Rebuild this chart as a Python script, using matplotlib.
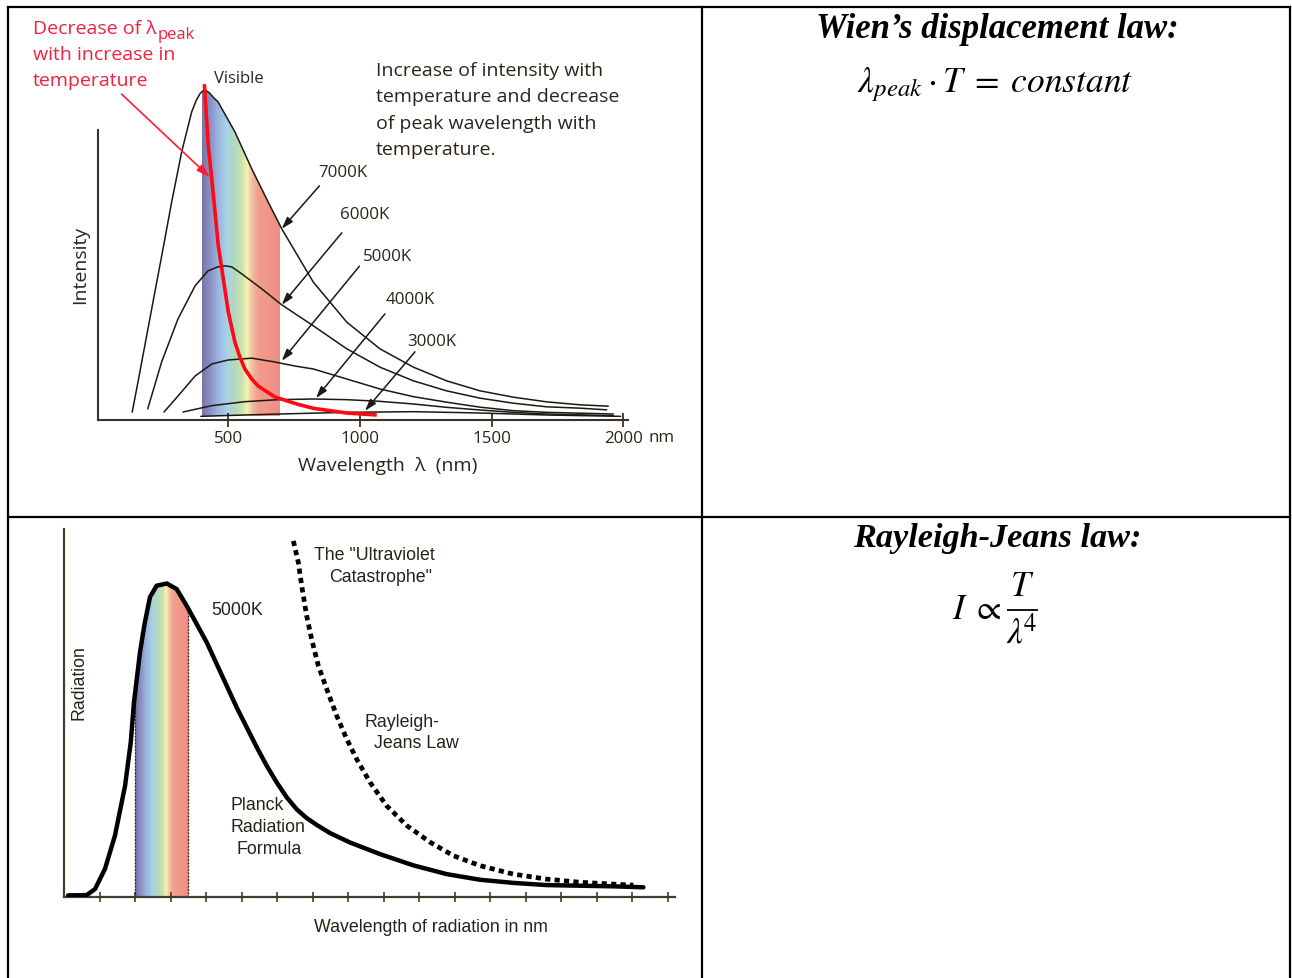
import numpy as np
import matplotlib
matplotlib.use('Agg')
import matplotlib.pyplot as plt
from matplotlib.colors import LinearSegmentedColormap

# ---------------- data: top-left panel (Wien) ----------------
wl_7000 = [135, 157, 209, 247, 285, 323, 361, 378, 393, 404, 415, 428, 446, 461, 525, 589, 651, 703, 823, 950, 1076, 1203, 1329, 1456, 1582, 1709, 1836, 1943]
I_7000 = [2.2, 11.25, 33.15, 49.05, 65.25, 80.3, 92.3, 95.7, 97.8, 98.6, 98.7, 98.0, 96.4, 95.3, 86.3, 75.2, 65.3, 57.2, 41.2, 29.2, 21.2, 15.7, 11.6, 8.6, 6.7, 5.3, 4.4, 4.0]
wl_6000 = [194, 247, 309, 374, 423, 461, 487, 513, 551, 627, 703, 823, 950, 1076, 1203, 1329, 1456, 1582, 1709, 1836, 1937]
I_6000 = [3.2, 17.3, 30.2, 40.1, 44.6, 45.8, 46.1, 45.8, 43.7, 39.2, 34.4, 28.1, 21.2, 15.7, 11.6, 8.6, 6.4, 4.9, 3.8, 3.4, 2.9]
wl_5000 = [256, 309, 374, 437, 499, 589, 677, 753, 823, 950, 1076, 1203, 1329, 1456, 1582, 1709, 1962]
I_5000 = [2.25, 7.05, 13.05, 16.65, 17.85, 18.4, 17.25, 16.05, 15.15, 12.15, 9.15, 6.85, 5.2, 3.7, 2.65, 2.15, 1.65]
wl_4000 = [328, 437, 563, 689, 823, 950, 1076, 1203, 1329, 1456, 1582, 1709, 1962]
I_4000 = [2.25, 4.15, 5.35, 5.95, 6.15, 5.95, 5.45, 4.65, 3.65, 2.85, 2.15, 1.65, 1.15]
wl_3000 = [396, 563, 696, 950, 1203, 1456, 1709, 1990]
I_3000 = [0.95, 1.35, 1.65, 2.15, 2.35, 1.95, 1.35, 0.95]
wl_peak = [409, 424, 437, 449.5, 462, 481, 500, 525, 544, 563, 589, 613, 677, 760, 823, 950, 1064]
I_peak = [100.6, 82.1, 72.2, 62.25, 52.1, 42.2, 32.25, 23.25, 18.7, 15.15, 12.15, 10.05, 6.75, 4.65, 3.35, 1.95, 1.35]

temp_labels = ['7000K', '6000K', '5000K', '4000K', '3000K']
label_wl = [937, 1019, 1104, 1190, 1272]
label_I = [74.2, 61.7, 49.0, 36.2, 23.6]
arrow_tail_wl = [846, 931, 998, 1095, 1209]
arrow_tail_I = [70.1, 56.0, 46.0, 31.7, 20.3]
arrow_tip_wl = [703, 703, 703, 833, 1019]
arrow_tip_I = [57.2, 34.4, 17.6, 6.4, 2.6]
top_ticks = [500, 1000, 1500, 2000]
top_ticklabels = ['500', '1000', '1500', '2000']
visible_range = [400, 695]

# ---------------- data: bottom-left panel (Rayleigh-Jeans) ----------------
wl_planck = [23, 128, 175, 231, 287, 344, 376, 394, 428, 453.5, 484.5, 522, 579, 635, 691, 748, 804, 860, 917, 973, 1029, 1086, 1142, 1198, 1255, 1311, 1367, 1424, 1499, 1611, 1780, 1968, 2156, 2344, 2531, 2719, 2907, 3095, 3264]
I_planck = [0.6, 0.7, 2.65, 9.1, 19.7, 35.6, 49.5, 62.2, 78.2, 87.2, 95.9, 99.5, 100.2, 98.4, 93.1, 87.2, 81.4, 74.5, 67.5, 60.6, 54.3, 47.9, 42.0, 36.7, 31.9, 28.1, 25.3, 23.1, 20.5, 17.5, 13.8, 10.2, 7.4, 5.6, 4.6, 3.9, 3.7, 3.5, 3.2]
wl_rj = [1292, 1320, 1339, 1367, 1395, 1433, 1480, 1536, 1593, 1649, 1724, 1818, 1931, 2062, 2193, 2344, 2531, 2719, 2907, 3095, 3207]
I_rj = [113.8, 106.9, 99.5, 89.9, 82.4, 73.9, 66.5, 58.0, 50.5, 44.1, 36.7, 29.2, 22.9, 17.6, 13.3, 10.1, 7.4, 5.8, 4.8, 4.2, 3.9]
bottom_ticks = list(range(200, 3401, 200))
visible_range_b = [400, 700]

# ---------------- figure setup ----------------
W, H = 1292, 979
fig = plt.figure(figsize=(W / 100, H / 100), dpi=100)
plt.rcParams['mathtext.fontset'] = 'stix'

def px_axes(x0, y0, x1, y1):
    return fig.add_axes([x0 / W, 1 - y1 / H, (x1 - x0) / W, (y1 - y0) / H])

# overlay for table and free text (pixel coordinates)
ov = fig.add_axes([0, 0, 1, 1])
ov.set_xlim(0, W)
ov.set_ylim(H, 0)
ov.axis('off')

lk = dict(color='black', lw=1.6, solid_capstyle='projecting')
ov.plot([7.5, 7.5], [7.5, H + 5], **lk)
ov.plot([7.5, 1290], [7.5, 7.5], **lk)
ov.plot([1290, 1290], [7.5, H + 5], **lk)
ov.plot([702, 702], [7.5, H + 5], **lk)
ov.plot([7.5, 1290], [517.5, 517.5], **lk)

vis_colors = ['#7a75a6', '#8890c4', '#9bb3df', '#a7d3e6', '#b4d9bb', '#cde3ae',
              '#f7f3b2', '#f3c0a4', '#f29e8e', '#ef8e84']
vis_stops = [0.0, 0.10, 0.20, 0.32, 0.42, 0.52, 0.58, 0.64, 0.72, 1.0]
vis_cmap = LinearSegmentedColormap.from_list('vis', list(zip(vis_stops, vis_colors)))
grad = np.linspace(0, 1, 300).reshape(1, -1)

# ---------------- top-left axes ----------------
TXT = '#2b241b'
FT = 'Open Sans'
ax1 = px_axes(98.3, 80, 628, 420.5)
ax1.patch.set_visible(False)
im = ax1.imshow(grad, cmap=vis_cmap, extent=[visible_range[0], visible_range[1], 1.1, 102],
                aspect='auto', origin='lower', zorder=1, interpolation='bilinear')
clip = ax1.fill_between(wl_7000, 0, I_7000, facecolor='none', edgecolor='none')
im.set_clip_path(clip.get_paths()[0], transform=ax1.transData)

for wl, I in [(wl_7000, I_7000), (wl_6000, I_6000), (wl_5000, I_5000), (wl_4000, I_4000), (wl_3000, I_3000)]:
    ax1.plot(wl, I, color='#1c1813', lw=1.1, zorder=3, solid_capstyle='round', solid_joinstyle='round')
ax1.plot(wl_peak, I_peak, color='#ff0a14', lw=2.6, zorder=4, solid_capstyle='butt', solid_joinstyle='round')

for lab, lx, ly, tx, ty, hx, hy in zip(temp_labels, label_wl, label_I, arrow_tail_wl, arrow_tail_I, arrow_tip_wl, arrow_tip_I):
    ax1.text(lx, ly, lab, ha='center', va='center', fontsize=12.2, family=FT, color=TXT)
    ax1.annotate('', xy=(hx, hy), xytext=(tx, ty),
                 arrowprops=dict(arrowstyle='-|>,head_length=0.7,head_width=0.22', color='#1c1813',
                                 lw=1.1, shrinkA=0, shrinkB=0), zorder=5)
# red arrow
ax1.annotate('', xy=(430, 72.7), xytext=(95, 97.6),
             arrowprops=dict(arrowstyle='-|>,head_length=0.8,head_width=0.25', color='#ff1a3a',
                             lw=1.2, shrinkA=0, shrinkB=0), annotation_clip=False, zorder=5)

ax1.set_xlim(6.3, 2018)
ax1.set_ylim(0, 102.15)
for s in ['top', 'right']:
    ax1.spines[s].set_visible(False)
ax1.spines['left'].set_bounds(0, 86.9)
for s in ['left', 'bottom']:
    ax1.spines[s].set_color('#3b3128')
    ax1.spines[s].set_linewidth(1.5)
ax1.set_yticks([])
ax1.set_xticks(top_ticks)
ax1.set_xticklabels(top_ticklabels, family=FT, fontsize=12.2, color=TXT)
ax1.tick_params(axis='x', direction='inout', length=10, width=1.3, color='#3b3128', pad=2.5)

# top-left free text
red = '#f2203f'
ov.text(33, 29, 'Decrease of λ', fontsize=14, family=FT, color=red, ha='left', va='center')
ov.text(158, 35, 'peak', fontsize=12, family=FT, color=red, ha='left', va='center')
ov.text(33, 55, 'with increase in', fontsize=14, family=FT, color=red, ha='left', va='center')
ov.text(33, 81, 'temperature', fontsize=14, family=FT, color=red, ha='left', va='center')
ov.text(239, 79, 'Visible', fontsize=12, family=FT, color=TXT, ha='center', va='center')
for i, line in enumerate(['Increase of intensity with', 'temperature and decrease',
                          'of peak wavelength with', 'temperature.']):
    ov.text(376, 71 + 26.3 * i, line, fontsize=14, family=FT, color=TXT, ha='left', va='center')
ov.text(80, 265, 'Intensity', fontsize=14, family=FT, color=TXT, rotation=90, ha='center', va='center')
ov.text(388, 466, 'Wavelength  λ  (nm)', fontsize=14, family=FT, color=TXT, ha='center', va='center')
ov.text(648, 438, 'nm', fontsize=12.2, family=FT, color=TXT, ha='left', va='center')

# ---------------- bottom-left axes ----------------
TXT2 = '#272217'
ax2 = px_axes(64, 530, 675, 898.3)
ax2.patch.set_visible(False)
im2 = ax2.imshow(grad, cmap=vis_cmap, extent=[visible_range_b[0], visible_range_b[1], 0, 110],
                 aspect='auto', origin='lower', zorder=1, interpolation='bilinear')
clip2 = ax2.fill_between(wl_planck, 0, I_planck, facecolor='none', edgecolor='none')
im2.set_clip_path(clip2.get_paths()[0], transform=ax2.transData)
for v in visible_range_b:
    ax2.plot([v, v], [0, np.interp(v, wl_planck, I_planck)], color='#222', lw=1.0,
             linestyle=(0, (1.2, 1.2)), zorder=2)
ax2.plot(wl_planck, I_planck, color='black', lw=3.2, zorder=3, solid_capstyle='round', solid_joinstyle='round')
ax2.plot(wl_rj, I_rj, color='black', lw=3.4, linestyle=(0, (1.1, 0.9)), dash_capstyle='butt', zorder=3)
ax2.set_xlim(0, 3442)
ax2.set_ylim(0, 117.6)
for s in ['top', 'right']:
    ax2.spines[s].set_visible(False)
for s in ['left', 'bottom']:
    ax2.spines[s].set_color('#463c30')
    ax2.spines[s].set_linewidth(1.6)
ax2.set_yticks([])
ax2.set_xticks(bottom_ticks)
ax2.set_xticklabels([])
ax2.tick_params(axis='x', direction='inout', length=7, width=1.2, color='#463c30')

bf = dict(fontsize=12.8, family='Liberation Sans', color=TXT2)
ov.text(79, 683, 'Radiation', rotation=90, ha='center', va='center', **bf)
ov.text(160, 759, 'Visible', rotation=90, ha='center', va='center', **bf)
ov.text(237, 611, '5000K', ha='center', va='center', **bf)
ov.text(314, 556, 'The "Ultraviolet', ha='left', va='center', **bf)
ov.text(329, 578, 'Catastrophe"', ha='left', va='center', **bf)
ov.text(364, 723, 'Rayleigh-', ha='left', va='center', **bf)
ov.text(374, 744, 'Jeans Law', ha='left', va='center', **bf)
ov.text(231, 806, 'Planck', ha='left', va='center', **bf)
ov.text(231, 828, 'Radiation', ha='left', va='center', **bf)
ov.text(236, 850, 'Formula', ha='left', va='center', **bf)
ov.text(431, 928, 'Wavelength of radiation in nm', ha='center', va='center', **bf)

# ---------------- right column ----------------
tf = dict(family='Liberation Serif', weight='bold', style='italic', color='black')
ov.text(997, 30, 'Wien’s displacement law:', ha='center', va='center', fontsize=25, **tf)
ov.text(995, 85, r'$\lambda_{peak}\cdot T\;=\;constant$', ha='center', va='center', fontsize=25.5, color='black')
ov.text(997, 539, 'Rayleigh-Jeans law:', ha='center', va='center', fontsize=24.7, **tf)
# Rayleigh-Jeans formula built from pieces: I ∝ T / λ^4
ov.text(977, 609, r'$I\;\propto$', ha='center', va='center', fontsize=25.5, color='black')
ov.text(1022, 586, r'$T$', ha='center', va='center', fontsize=25.5, color='black')
ov.plot([1007, 1038], [611, 611], color='black', lw=1.3, solid_capstyle='butt')
ov.text(1022, 632, r'$\lambda^{\!4}$', ha='center', va='center', fontsize=25.5, color='black')

fig.savefig('out.png', dpi=100)
